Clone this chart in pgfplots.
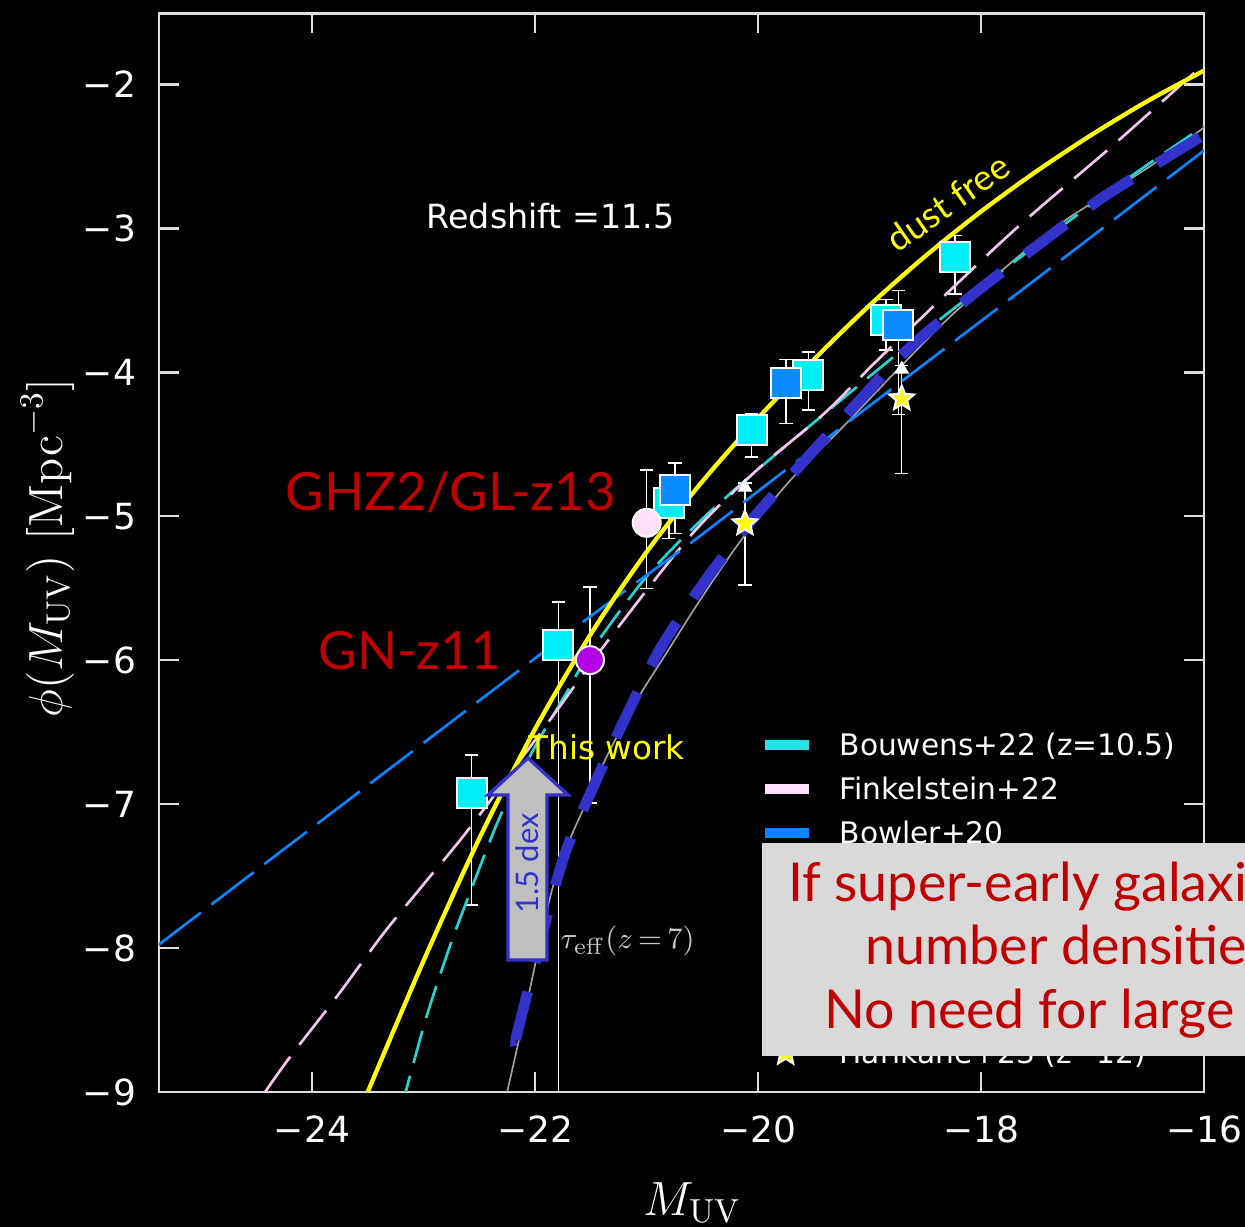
\documentclass[border=0pt]{standalone}
\usepackage[no-math]{fontspec}
\setmainfont{DejaVu Sans}
\newfontfamily\lato{Lato}
\usepackage{pgfplots}
\pgfplotsset{compat=1.18}
\usepackage{pgfplotstable}
\usetikzlibrary{plotmarks}

\definecolor{axisC}{HTML}{DDDDDD}
\definecolor{cyanM}{HTML}{00EEF6}
\definecolor{blueM}{HTML}{0A8CFF}
\definecolor{bouwL}{HTML}{26D3D3}
\definecolor{bouwP}{HTML}{2EE0E6}
\definecolor{finkL}{HTML}{F2C4EE}
\definecolor{finkP}{HTML}{FFE0FA}
\definecolor{bowL}{HTML}{0A84FF}
\definecolor{thickC}{HTML}{3333CC}
\definecolor{grayL}{HTML}{A0A0A0}
\definecolor{ghzC}{HTML}{FFE0F8}
\definecolor{gnC}{HTML}{B400E6}
\definecolor{yelC}{HTML}{FFFF00}
\definecolor{redC}{HTML}{C00000}
\definecolor{boxC}{HTML}{D9D9D9}
\definecolor{arrF}{HTML}{BFBFBF}
\definecolor{tauC}{HTML}{C8C8C8}

\pgfdeclareplotmark{fstar}{%
  \pgfpathmoveto{\pgfpointpolar{90}{\pgfplotmarksize}}%
  \pgfpathlineto{\pgfpointpolar{126}{0.45\pgfplotmarksize}}%
  \pgfpathlineto{\pgfpointpolar{162}{\pgfplotmarksize}}%
  \pgfpathlineto{\pgfpointpolar{198}{0.45\pgfplotmarksize}}%
  \pgfpathlineto{\pgfpointpolar{234}{\pgfplotmarksize}}%
  \pgfpathlineto{\pgfpointpolar{270}{0.45\pgfplotmarksize}}%
  \pgfpathlineto{\pgfpointpolar{306}{\pgfplotmarksize}}%
  \pgfpathlineto{\pgfpointpolar{342}{0.45\pgfplotmarksize}}%
  \pgfpathlineto{\pgfpointpolar{18}{\pgfplotmarksize}}%
  \pgfpathlineto{\pgfpointpolar{54}{0.45\pgfplotmarksize}}%
  \pgfpathclose
  \pgfusepathqfillstroke
}

% ---------------- data ----------------
\pgfplotstableread{
x y
-23.60 -9.19
-23.50 -9.00
-23.00 -8.09
-22.50 -7.24
-22.00 -6.48
-21.50 -5.82
-21.00 -5.25
-20.50 -4.76
-20.00 -4.32
-19.50 -3.913
-19.00 -3.536
-18.50 -3.194
-18.00 -2.884
-17.50 -2.603
-17.00 -2.347
-16.50 -2.114
-16.00 -1.905
}\yellowdata

\pgfplotstableread{
x y
-24.42 -9.00
-24.20 -8.76
-23.78 -8.34
-23.36 -7.90
-22.97 -7.53
-22.58 -7.16
-21.87 -6.42
-21.39 -5.91
-20.61 -5.14
-20.01 -4.68
-19.41 -4.29
-18.88 -3.88
-17.74 -3.04
-16.84 -2.44
-16.00 -1.86
}\finkdata

\pgfplotstableread{
x y
-23.20 -9.11
-23.16 -9.00
-22.97 -8.47
-22.76 -7.98
-22.58 -7.61
-22.31 -7.08
-22.02 -6.63
-21.72 -6.23
-21.50 -5.94
-21.00 -5.42
-20.50 -5.02
-20.00 -4.675
-19.50 -4.35
-19.00 -4.03
-18.50 -3.715
-18.00 -3.41
-17.50 -3.115
-17.00 -2.83
-16.50 -2.555
-16.00 -2.29
}\bouwdata

\pgfplotstableread{
x y
-25.378 -7.979
-23.50 -6.87
-21.507 -5.699
-20.61 -5.19
-19.832 -4.727
-18.816 -4.125
-17.50 -3.35
-16.00 -2.46
}\bowdata

\pgfplotstableread{
x y
-22.25 -9.00
-22.13 -8.59
-21.865 -7.65
-21.716 -7.30
-21.57 -7.04
-21.357 -6.67
-21.088 -6.28
-20.82 -5.95
-20.50 -5.56
-20.135 -5.15
-19.686 -4.73
-19.238 -4.38
-18.726 -3.965
-18.215 -3.57
-17.381 -3.019
-16.484 -2.57
-16.00 -2.30
}\graydata

\pgfplotstableread{
x y
-22.17 -8.64
-22.127 -8.49
-21.767 -7.43
-21.50 -6.92
-21.178 -6.382
-20.876 -5.92
-20.49 -5.467
-20.057 -5.028
-19.593 -4.623
-19.10 -4.206
-18.682 -3.859
-18.069 -3.458
-17.50 -3.123
-16.933 -2.799
-16.335 -2.509
-16.00 -2.35
}\thickdata

\pgfplotstableread{
x y ep em
-22.568 -6.926 0.266 0.775
-21.790 -5.896 0.300 3.500
-20.800 -4.910 0.200 0.245
-20.057 -4.403 0.116 0.185
-19.549 -4.021 0.162 0.243
-18.852 -3.639 0.144 0.208
-18.233 -3.203 0.154 0.255
}\cyansq

\pgfplotstableread{
x y ep em
-20.744 -4.819 0.189 0.300
-19.749 -4.078 0.166 0.278
-18.742 -3.674 0.243 0.620
}\bluesq

\pgfplotstableread{
x y ep em
-20.998 -5.046 0.366 0.456
}\ghzpt

\pgfplotstableread{
x y ep em
-21.507 -6.000 0.509 0.993
}\gnpt

\pgfplotstableread{
x y ep em
-18.711 -4.183 0.230 0.520
-20.117 -5.051 0.280 0.426
}\starpt

\pgfplotstableread{
x y
-18.711 -3.98
-20.117 -4.80
}\arrowpt

\begin{document}
\begin{tikzpicture}
\fill[black] (-47.7pt,-40.5pt) rectangle (325.8pt,327.6pt);
\begin{axis}[
  at={(0pt,0pt)}, anchor=south west, scale only axis,
  width=313.5pt, height=323.6pt,
  xmin=-25.372, xmax=-16, ymin=-9, ymax=-1.507,
  axis line style={draw=axisC, line width=0.8pt},
  tick style={draw=axisC, line width=0.8pt},
  major tick length=6pt,
  tick align=inside,
  xtick={-24,-22,-20,-18,-16},
  xticklabels={−24,−22,−20,−18,−16},
  ytick={-9,-8,-7,-6,-5,-4,-3,-2},
  yticklabels={−9,−8,−7,−6,−5,−4,−3,−2},
  ticklabel style={text=white, font=\fontsize{10.8}{12}\selectfont},
  xticklabel style={inner sep=0pt, anchor=north, yshift=-6.9pt},
  yticklabel style={inner sep=0pt, anchor=east, xshift=-6.7pt},
  legend cell align=left,
  legend style={draw=none, fill=none, inner sep=0pt, outer sep=0pt,
    at={(0.5799,0.3421)}, anchor=north west,
    row sep=0pt, column sep=9.2pt,
    font=\fontsize{8.9}{10}\selectfont, text=white,
    nodes={inner sep=0pt, text height=9.7pt, text depth=3.5pt}},
]
% data points with error bars
\addplot[forget plot, only marks, mark=square*, mark size=4.5pt,
  mark options={draw=white, fill=cyanM, line width=0.6pt},
  error bars/.cd, y dir=both, y explicit,
  error bar style={white, line width=0.45pt},
  error mark options={white, line width=0.45pt, mark size=2pt, rotate=90}]
  table[x=x, y=y, y error plus=ep, y error minus=em] {\cyansq};
\addplot[forget plot, only marks, mark=square*, mark size=4.5pt,
  mark options={draw=white, fill=blueM, line width=0.6pt},
  error bars/.cd, y dir=both, y explicit,
  error bar style={white, line width=0.45pt},
  error mark options={white, line width=0.45pt, mark size=2pt, rotate=90}]
  table[x=x, y=y, y error plus=ep, y error minus=em] {\bluesq};
\addplot[forget plot, only marks, mark=*, mark size=4.2pt,
  mark options={draw=white, fill=ghzC, line width=0.6pt},
  error bars/.cd, y dir=both, y explicit,
  error bar style={white, line width=0.45pt},
  error mark options={white, line width=0.45pt, mark size=2pt, rotate=90}]
  table[x=x, y=y, y error plus=ep, y error minus=em] {\ghzpt};
\addplot[forget plot, only marks, mark=*, mark size=4.2pt,
  mark options={draw=white, fill=gnC, line width=0.6pt},
  error bars/.cd, y dir=both, y explicit,
  error bar style={white, line width=0.45pt},
  error mark options={white, line width=0.45pt, mark size=2pt, rotate=90}]
  table[x=x, y=y, y error plus=ep, y error minus=em] {\gnpt};
\addplot[forget plot, only marks, mark=fstar, mark size=3.9pt,
  mark options={draw=white, fill=yelC, line width=0.6pt},
  error bars/.cd, y dir=both, y explicit,
  error bar style={white, line width=0.45pt},
  error mark options={white, line width=0.45pt, mark size=2pt, rotate=90}]
  table[x=x, y=y, y error plus=ep, y error minus=em] {\starpt};
\addplot[forget plot, only marks, mark=triangle*, mark size=2.2pt,
  mark options={draw=white, fill=white}] table {\arrowpt};

% model curves
\addplot[forget plot, grayL, line width=0.5pt, smooth, tension=0.5] table {\graydata};
\addplot[forget plot, bouwL, line width=0.8pt, dash pattern=on 10pt off 4pt, smooth, tension=0.5] table {\bouwdata};
\addplot[forget plot, finkL, line width=0.8pt, dash pattern=on 13pt off 4.5pt, smooth, tension=0.5] table {\finkdata};
\addplot[forget plot, bowL, line width=0.8pt, dash pattern=on 16pt off 4pt, smooth, tension=0.5] table {\bowdata};
\addplot[forget plot, yelC, line width=1.3pt, smooth, tension=0.5] table {\yellowdata};
\addplot[forget plot, thickC, line width=3.2pt, dash pattern=on 15pt off 9pt, smooth, tension=0.5] table {\thickdata};

% legend
\addlegendimage{legend image code/.code={\fill[bouwP] (0pt,-1.25pt) rectangle (12.8pt,1.25pt);}}
\addlegendentry{Bouwens+22 (z=10.5)}
\addlegendimage{legend image code/.code={\fill[finkP] (0pt,-1.25pt) rectangle (12.8pt,1.25pt);}}
\addlegendentry{Finkelstein+22}
\addlegendimage{legend image code/.code={\fill[bowL] (0pt,-1.25pt) rectangle (12.8pt,1.25pt);}}
\addlegendentry{Bowler+20}
\addlegendimage{empty legend}\addlegendentry{}
\addlegendimage{empty legend}\addlegendentry{}
\addlegendimage{empty legend}\addlegendentry{}
\addlegendimage{empty legend}\addlegendentry{}
\addlegendimage{legend image code/.code={\path plot[mark=fstar, mark size=3.9pt, mark options={draw=white, fill=yelC, line width=0.6pt}] coordinates {(6pt,0pt)};}}
\addlegendentry{Harikane+23 (z\textasciitilde12)}
\end{axis}

% axis labels
\node[text=white, anchor=base west, inner sep=0pt, font=\fontsize{13.8}{16}\selectfont] at (145.2pt,-36.9pt) {$M_{\mathrm{UV}}$};
\node[text=white, rotate=90, font=\fontsize{14.4}{16}\selectfont] at (-33.45pt,163.2pt) {$\phi(M_{\mathrm{UV}})\ [\mathrm{Mpc}^{-3}]$};

% annotations
\node[text=white, anchor=base west, inner sep=0pt, font=\fontsize{10}{12}\selectfont] at (80.1pt,259.1pt) {Redshift =11.5};
\node[text=yelC, anchor=base west, inner sep=0pt, rotate=35, font=\lato\fontsize{10.8}{13}\selectfont] at (221.4pt,251.4pt) {dust free};
\node[text=redC, anchor=base west, inner sep=0pt, font=\lato\fontsize{15.8}{19}\selectfont] at (37.8pt,174.4pt) {GHZ2/GL-z13};
\node[text=redC, anchor=base west, inner sep=0pt, font=\lato\fontsize{15.8}{19}\selectfont] at (47.7pt,126.6pt) {GN-z11};
\node[text=yelC, anchor=base west, inner sep=0pt, font=\fontsize{9.8}{11}\selectfont] at (110.7pt,99.6pt) {This work};
\node[text=tauC, anchor=base west, inner sep=0pt, font=\fontsize{9.5}{11}\selectfont] at (120.3pt,43.1pt) {$\tau_{\mathrm{eff}}(z\,{=}\,7)$};

% 1.5 dex arrow
\draw[fill=arrF, draw=thickC, line width=1pt, line join=miter]
  (104.7pt,39.6pt) -- (104.7pt,89.1pt) -- (98.7pt,89.1pt) -- (110.7pt,100.2pt)
  -- (122.7pt,89.1pt) -- (116.4pt,89.1pt) -- (116.4pt,39.6pt) -- cycle;
\node[text=thickC, rotate=90, font=\lato\fontsize{9.3}{11}\selectfont] at (110.6pt,68.6pt) {1.5 dex};

% grey box with red text
\fill[boxC] (180.9pt,10.8pt) rectangle (345pt,74.7pt);
\node[text=redC, anchor=base west, inner sep=0pt, font=\lato\fontsize{16.1}{19}\selectfont] at (188.5pt,57.1pt) {If super-early galaxies};
\node[text=redC, anchor=base west, inner sep=0pt, font=\lato\fontsize{16.1}{19}\selectfont] at (211.8pt,38.1pt) {number densities};
\node[text=redC, anchor=base west, inner sep=0pt, font=\lato\fontsize{16.1}{19}\selectfont] at (199.3pt,19.1pt) {No need for large};

\pgfresetboundingbox
\useasboundingbox (-47.7pt,-40.5pt) rectangle (325.8pt,327.6pt);
\end{tikzpicture}
\end{document}
